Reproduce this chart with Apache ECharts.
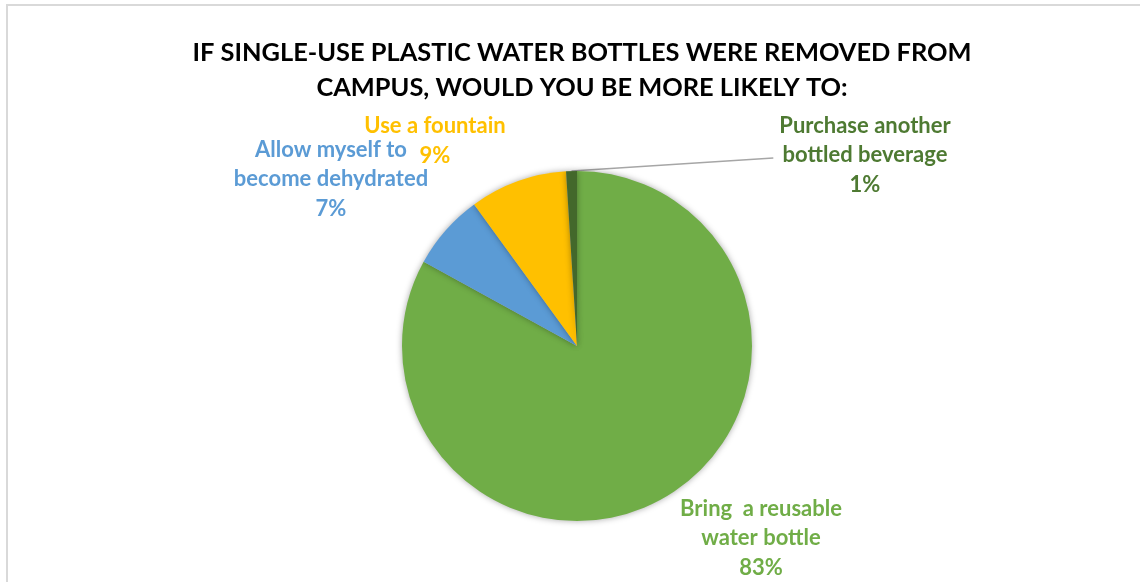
<!DOCTYPE html>
<html>
<head>
<meta charset="utf-8">
<script src="https://cdn.jsdelivr.net/npm/echarts@6/dist/echarts.min.js"></script>
<style>
    html, body { margin: 0; padding: 0; background: #fff; }
    #frame {
        position: absolute; left: 6px; top: 4px; width: 1134px; height: 578px;
        border-left: 2px solid #d9d9d9; border-top: 2px solid #d9d9d9;
    }
    #chart { position: absolute; left: 0; top: 0; width: 1140px; height: 582px; }
</style>
</head>
<body>
<div id="frame"></div>
<div id="chart"></div>
<script>
let categories = ['Bring  a reusable\nwater bottle', 'Allow myself to\nbecome dehydrated', 'Use a fountain', 'Purchase another\nbottled beverage'];
let values = [83, 7, 9, 1];
let colors = ['#70AD47', '#5B9BD5', '#FFC000', '#43682B'];
let labelColors = ['#70AD47', '#5B9BD5', '#FFC000', '#4E7A32'];

// where Excel parked each label (centre of text block)
let labelPos = [[761, 538], [331, 179], [435, 141], [865, 155]];

let option = {
    animation: false,
    title: {
        text: 'IF SINGLE-USE PLASTIC WATER BOTTLES WERE REMOVED FROM\nCAMPUS, WOULD YOU BE MORE LIKELY TO:',
        left: 577,
        top: 30,
        textAlign: 'center',
        textStyle: {
            fontFamily: 'Lato',
            fontWeight: 'bold',
            fontSize: 25.4,
            lineHeight: 35,
            color: '#000'
        }
    },
    series: [
        {
            type: 'pie',
            center: [577, 346],
            radius: 175,
            startAngle: 90,
            clockwise: true,
            percentPrecision: 0,
            itemStyle: {
                shadowBlur: 6,
                shadowColor: 'rgba(0,0,0,0.35)'
            },
            label: {
                show: true,
                formatter: '{b}\n{d}%',
                fontFamily: 'Lato',
                fontWeight: 'bold',
                fontSize: 22,
                lineHeight: 29.5,
                align: 'center'
            },
            labelLine: { show: false },
            labelLayout: params => {
                let p = labelPos[params.dataIndex];
                let res = { x: p[0], y: p[1], align: 'center', verticalAlign: 'middle' };
                if (params.dataIndex === 3 && params.labelLinePoints) {
                    // straight leader from the slice edge to the label's left side
                    let start = params.labelLinePoints[0];
                    res.labelLinePoints = [start, [p[0] - params.labelRect.width / 2 - 6, p[1] + 3]];
                }
                return res;
            },
            data: categories.map((name, i) => ({
                name: name,
                value: values[i],
                itemStyle: { color: colors[i] },
                label: { color: labelColors[i] },
                labelLine: i === 3 ? { show: true, lineStyle: { color: '#a6a6a6', width: 1.5 } } : { show: false }
            }))
        }
    ]
};

let myChart = echarts.init(document.getElementById('chart'));
myChart.setOption(option);
</script>
</body>
</html>
